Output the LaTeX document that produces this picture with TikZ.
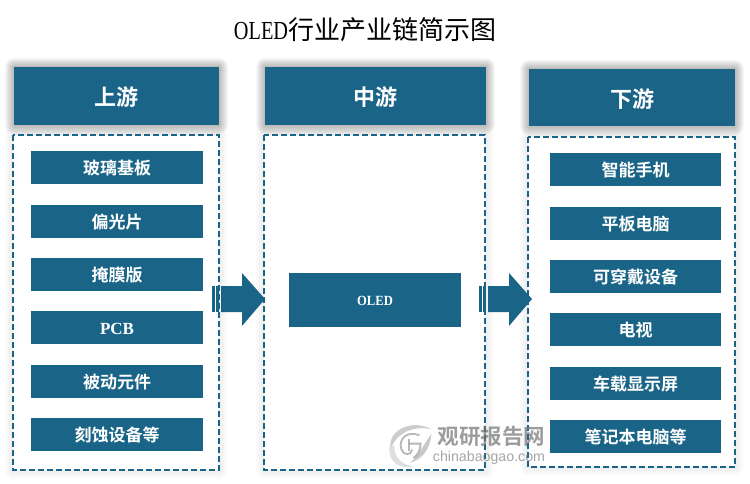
\documentclass[tikz,border=0pt]{standalone}
\usepackage{fontspec}
\setmainfont{Liberation Serif}
\newfontfamily\cjk{Noto Sans CJK SC}
\newfontfamily\cjkb{Noto Sans CJK SC Bold}
\usetikzlibrary{calc}
\definecolor{oledblue}{HTML}{1A6587}
\newcommand{\softshadow}[5]{% x1 y1 x2 y2 opacity
  \foreach \g in {9,8,...,1}{
    \fill[black,opacity=#5,rounded corners=\g pt] (#1-\g,#2-\g) rectangle (#3+\g,#4+\g);
  }
}
\newcommand{\blockarrow}[1]{% x offset of the stripes' left edge
  \fill[oledblue] (#1,286) rectangle (#1+2.5,312);
  \fill[oledblue] (#1+4,286) rectangle (#1+7,312);
  \fill[oledblue] (#1+9,286) -- (#1+30,286) -- (#1+30,273) -- (#1+53,299) -- (#1+30,326) -- (#1+30,312) -- (#1+9,312) -- cycle;
}
\tikzset{
  x=1pt,y=-1pt,
  headbox/.style={fill=oledblue,text=white,font=\cjkb\fontsize{22}{22}\selectfont,inner sep=0pt},
  itembox/.style={fill=oledblue,text=white,font=\cjkb\fontsize{17}{18}\selectfont,inner sep=0pt},
  dashbox/.style={draw=oledblue,line width=1.3pt,dash pattern=on 6pt off 3pt,fill=white},
  every node/.style={inner sep=0pt,outer sep=0pt}
}
\newcommand{\boxnode}[7]{% style name x1 y1 x2 y2 text
  \node[#1,minimum width=#5-#3,minimum height=#6-#4,anchor=center] (#2) at ({(#3+#5)/2},{(#4+#6)/2}) {\raisebox{-0.44em}[0pt][0pt]{#7}};
}
\begin{document}
\begin{tikzpicture}
\useasboundingbox (0,0) rectangle (750,483);
\fill[white] (0,0) rectangle (750,483);
\softshadow{14}{67}{219}{125}{0.03}
\softshadow{265}{67}{486}{125}{0.03}
\softshadow{529}{69}{735}{126}{0.03}
\softshadow{13}{135}{219}{470}{0.006}
\softshadow{264}{135}{485}{470}{0.006}
\softshadow{528}{137}{735}{467}{0.006}

\node[anchor=center] (title) at (365,30) {\fontsize{26}{26}\selectfont\scalebox{0.78}[1]{OLED}{\cjk 行业产业链简示图}};

\boxnode{headbox}{h1}{14}{67}{219}{125}{上游}
\boxnode{headbox}{h2}{265}{67}{486}{125}{中游}
\boxnode{headbox}{h3}{529}{69}{735}{126}{下游}

\draw[dashbox] (13,135) rectangle (219,470);
\draw[dashbox] (264,135) rectangle (485,470);
\draw[dashbox] (528,137) rectangle (735,467);

\boxnode{itembox}{a1}{31}{151}{203}{184}{玻璃基板}
\boxnode{itembox}{a2}{31}{205}{203}{238}{偏光片}
\boxnode{itembox}{a3}{31}{258}{203}{291}{掩膜版}
\boxnode{itembox}{a4}{31}{311}{203}{344}{\fontspec{Liberation Serif Bold}PCB}
\boxnode{itembox}{a5}{31}{365}{203}{398}{被动元件}
\boxnode{itembox}{a6}{31}{418}{203}{451}{刻蚀设备等}

\boxnode{itembox}{m1}{289}{273}{461}{327}{\raisebox{2pt}{\fontspec{Liberation Serif Bold}\fontsize{14}{16}\selectfont\scalebox{0.9}[1]{OLED}}}

\boxnode{itembox}{c1}{550}{153}{721}{186}{智能手机}
\boxnode{itembox}{c2}{550}{207}{721}{240}{平板电脑}
\boxnode{itembox}{c3}{550}{260}{721}{293}{可穿戴设备}
\boxnode{itembox}{c4}{550}{313}{721}{346}{电视}
\boxnode{itembox}{c5}{550}{367}{721}{400}{车载显示屏}
\boxnode{itembox}{c6}{550}{420}{721}{453}{笔记本电脑等}

\blockarrow{212}
\blockarrow{479}

% watermark
\begin{scope}[opacity=0.7]
  \begin{scope}[shift={(411,446)},scale=1.2,shift={(-411,-446)}]
  % upper crescent
  \fill[gray!55] (394,448) .. controls (391,433) and (412,423) .. (428,432)
     .. controls (414,429) and (400,434) .. (394,448) -- cycle;
  % lower-left crescent
  \fill[gray!35] (393,447) .. controls (392,458) and (400,466) .. (413,463)
     .. controls (404,462) and (397,456) .. (397,445) -- cycle;
  % right crescent
  \fill[gray!60] (428,436) .. controls (427,448) and (421,457) .. (410,460)
     .. controls (418,454) and (421,445) .. (428,436) -- cycle;
  % inner swirl
  \draw[gray!80,line width=1.8pt] (418,437) .. controls (408,433) and (400,440) .. (403,449) .. controls (405,454) and (411,454) .. (412,449);
  \draw[gray!80,line width=1.8pt] (409,440) -- (409,450);
  \draw[gray!80,line width=1.8pt] (409,444) -- (419,444) .. controls (419,450) and (416,454) .. (413,456);
  \end{scope}
  \node[text=gray!90!black,font=\cjkb\fontsize{21.5}{23}\selectfont,anchor=center] (wm1) at (491.5,436) {观研报告网};
  \node[text=gray,font=\fontspec{Liberation Sans}\fontsize{14.2}{17}\selectfont,anchor=center] (wm2) at (489,458) {chinabaogao.com};
\end{scope}
\end{tikzpicture}
\end{document}
